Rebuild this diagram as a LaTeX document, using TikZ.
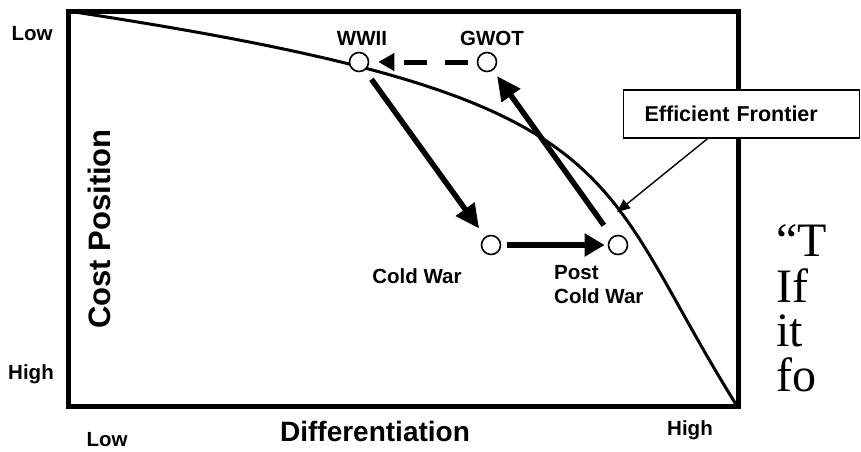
\documentclass[tikz,border=0pt]{standalone}
\usepackage{fontspec}
\setmainfont{Liberation Serif}
\setsansfont{Liberation Sans}
\usepackage{tikz}
\usetikzlibrary{arrows.meta,calc,positioning}

\tikzset{
	lbl/.style={font=\sffamily\bfseries\fontsize{20.5}{24}\selectfont},
	axislbl/.style={font=\sffamily\bfseries\fontsize{29}{32}\selectfont},
	era/.style={circle,draw,fill=white,line width=1.6pt,minimum size=19pt,inner sep=0pt},
	bigarrow/.style={line width=5.5pt,-{Triangle[length=24pt,width=22pt]}},
	slide/.style={font=\rmfamily\fontsize{48}{45}\selectfont,anchor=base west,inner sep=0pt}
}

\begin{document}
\begin{tikzpicture}[x=1pt,y=-1pt]
		\useasboundingbox (0,0) rectangle (861,451);
		% frame and frontier
		\draw[line width=5pt] (68,11) rectangle (738,406);
		\draw[line width=3pt] (68,11) .. controls (640,98) and (587,166) .. (737,406);
		% axis labels
		\node[lbl] (lowy) at (32,34) {Low};
		\node[lbl] (highy) at (31,374) {High};
		\node[lbl] (lowx) at (107,440) {Low};
		\node[lbl] (highx) at (690,430) {High};
		\node[axislbl,font=\sffamily\bfseries\fontsize{28}{32}\selectfont] (diff) at (375,431) {Differentiation};
		\node[axislbl,font=\sffamily\bfseries\fontsize{31}{34}\selectfont,rotate=90] (cost) at (99,229) {Cost Position};
		% eras
		\node[era] (wwii) at (359,62) {};
		\node[era] (gwot) at (487,62) {};
		\node[era] (cold) at (491,245) {};
		\node[era] (post) at (618,245) {};
		\node[lbl] at (362,38) {WWII};
		\node[lbl] at (492,38) {GWOT};
		\node[lbl] at (417,276) {Cold War};
		\node[lbl,anchor=north west,align=left,inner sep=0pt] at (554,265) {Post\\Cold War};
		\draw[bigarrow,shorten <=11pt,shorten >=10pt] (wwii) -- (cold);
		\draw[bigarrow,-{Triangle[length=20pt,width=22pt]},shorten <=6pt,shorten >=3pt] (cold) -- (post);
		\draw[bigarrow,shorten <=14pt,shorten >=7pt] (post) -- (gwot);
		\draw[line width=5pt,dash pattern=on 23pt off 18pt,-{Triangle[length=16pt,width=17pt]},shorten <=9pt,shorten >=9pt] (gwot) -- (wwii);
		% label box
		\node[lbl,font=\sffamily\bfseries\fontsize{21.5}{24}\selectfont,draw,fill=white,line width=1.2pt,anchor=west,minimum height=48pt,text width=194pt,inner xsep=21pt,align=left] (ef) at (623,114) {Efficient Frontier};
		\coordinate (front) at (617,212);
		\draw[line width=1.4pt,-{Triangle[length=13pt,width=11pt]}] ([xshift=-34pt]ef.south) -- (front);
		% slide text
		\node[slide] (t1) at (776,256) {``T};
		\node[slide] (t2) at (776,302) {If};
		\node[slide] (t3) at (776,346) {it};
		\node[slide] (t4) at (776,391) {fo};
		\end{tikzpicture}
\end{document}
